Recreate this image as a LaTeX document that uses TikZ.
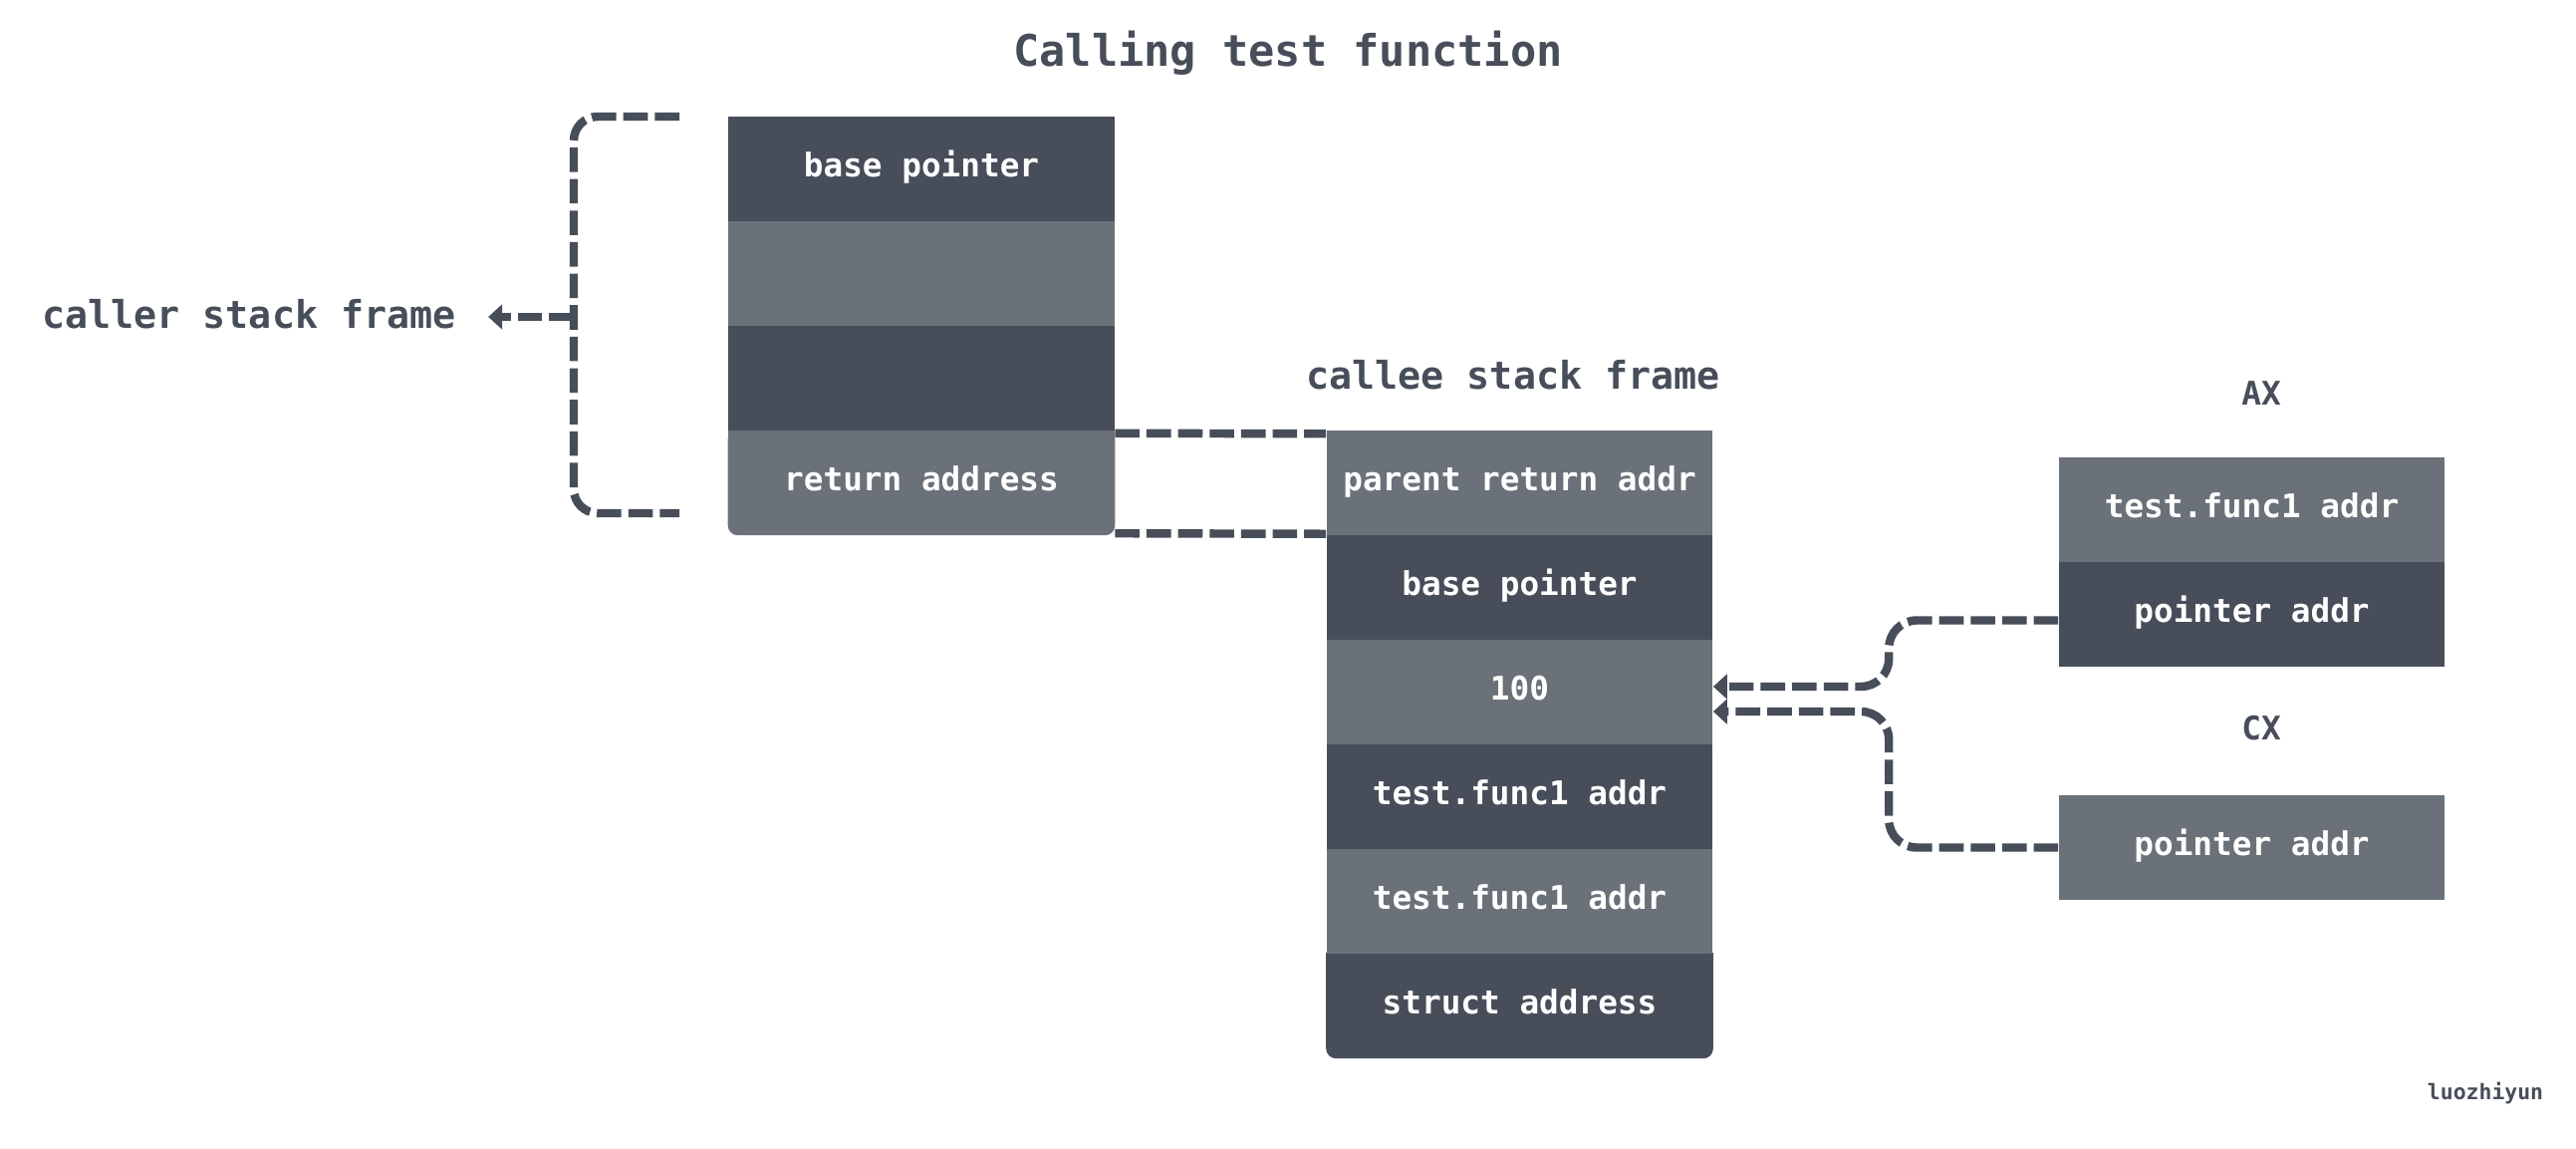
\documentclass[tikz,border=0pt]{standalone}
\usepackage{fontspec}
\setmonofont{DejaVu Sans Mono}
\usetikzlibrary{arrows.meta,backgrounds}
\definecolor{slatedark}{RGB}{71,78,89}
\definecolor{slategray}{RGB}{107,113,121}

\begin{document}
\begin{tikzpicture}[x=0.01cm, y=-0.01cm, every node/.style={font=\ttfamily\bfseries},
        cell/.style={minimum width=3.87cm, minimum height=1.05cm, inner sep=0pt, text height=0.74em, text depth=0.26em, text=white, font=\ttfamily\bfseries\fontsize{9.3}{11}\selectfont},
        darkcell/.style={cell, fill=slatedark},
        graycell/.style={cell, fill=slategray},
        framelabel/.style={text=slatedark, font=\ttfamily\bfseries\fontsize{10.9}{13}\selectfont},
        reglabel/.style={text=slatedark, font=\ttfamily\bfseries\fontsize{9.3}{11}\selectfont},
        dashline/.style={draw=slatedark, line width=2.4pt, dash pattern=on 7pt off 2pt},
        >={Triangle[length=4pt,width=7pt]}]
                            \useasboundingbox (0,0) rectangle (2586,1152);
                            \node at (1293,53) [text=slatedark, font=\ttfamily\bfseries\fontsize{12.4}{15}\selectfont] (title) {Calling test function};

                            % caller frame
                            \node at (925,169.5) [darkcell] (cbp) {base pointer};
                            \node at (925,274.5) [graycell] (cgap) {};
                            \node at (925,379.5) [darkcell] (cdark) {};
                            \node at (925,484) [cell] (cret) {return address};
                            \node at (250,315) [framelabel] (caller) {caller stack frame};

                            % callee frame
                            \node at (1519,376) [framelabel] (callee) {callee stack frame};
                            \node at (1525.5,484.5) [graycell] (pra) {parent return addr};
                            \node at (1525.5,589.5) [darkcell] (ebp) {base pointer};
                            \node at (1525.5,694.5) [graycell] (v100) {100};
                            \node at (1525.5,799.5) [darkcell] (fa) {test.func1 addr};
                            \node at (1525.5,904.5) [graycell] (fb) {test.func1 addr};
                            \node at (1525.5,1009) [cell] (sa) {struct address};

                            % registers
                            \node at (2270,395) [reglabel] (ax) {AX};
                            \node at (2260.5,511.5) [graycell] (axf) {test.func1 addr};
                            \node at (2260.5,616.5) [darkcell] (axp) {pointer addr};
                            \node at (2270,731) [reglabel] (cx) {CX};
                            \node at (2260.5,850.5) [graycell] (cxp) {pointer addr};

                            \node at (2495,1097) [text=slatedark, font=\ttfamily\bfseries\fontsize{6.1}{7}\selectfont] (sign) {luozhiyun};

                            \begin{scope}[on background layer]
                                \fill[slategray, rounded corners=1mm] (cret.north west) rectangle (cret.south east);
                                \fill[slategray] (cret.north west) rectangle (cret.east);
                                \fill[slatedark, rounded corners=1mm] (sa.north west) rectangle (sa.south east);
                                \fill[slatedark] (sa.north west) rectangle (sa.east);
                            \end{scope}

                            % bracket and links
                            \coordinate (brtop) at (682,117);
                            \coordinate (brbot) at (682,515);
                            \coordinate (brmid) at (576,318);
                            \draw[dashline, rounded corners=2.4mm] (brtop) -- ++(-106,0) -- ++(0,398) -- (brbot);
                            \draw[dashline, ->] (brmid) -- ([xshift=2mm]caller.east |- brmid);
                            \draw[dashline] ([yshift=-0.4mm]cret.north east) -- ([yshift=-0.4mm]pra.north west);
                            \draw[dashline] ([yshift=0.2mm]cret.south east) -- ([yshift=0.2mm]pra.south west);
                            \draw[dashline, ->, rounded corners=2.8mm] ([yshift=-0.6mm]axp.west) -- ++(-170,0) |- ([yshift=0.55mm]v100.east);
                            \draw[dashline, ->, rounded corners=2.8mm] (cxp.west) -- ++(-170,0) |- ([yshift=-1.95mm]v100.east);
\end{tikzpicture}
\end{document}
